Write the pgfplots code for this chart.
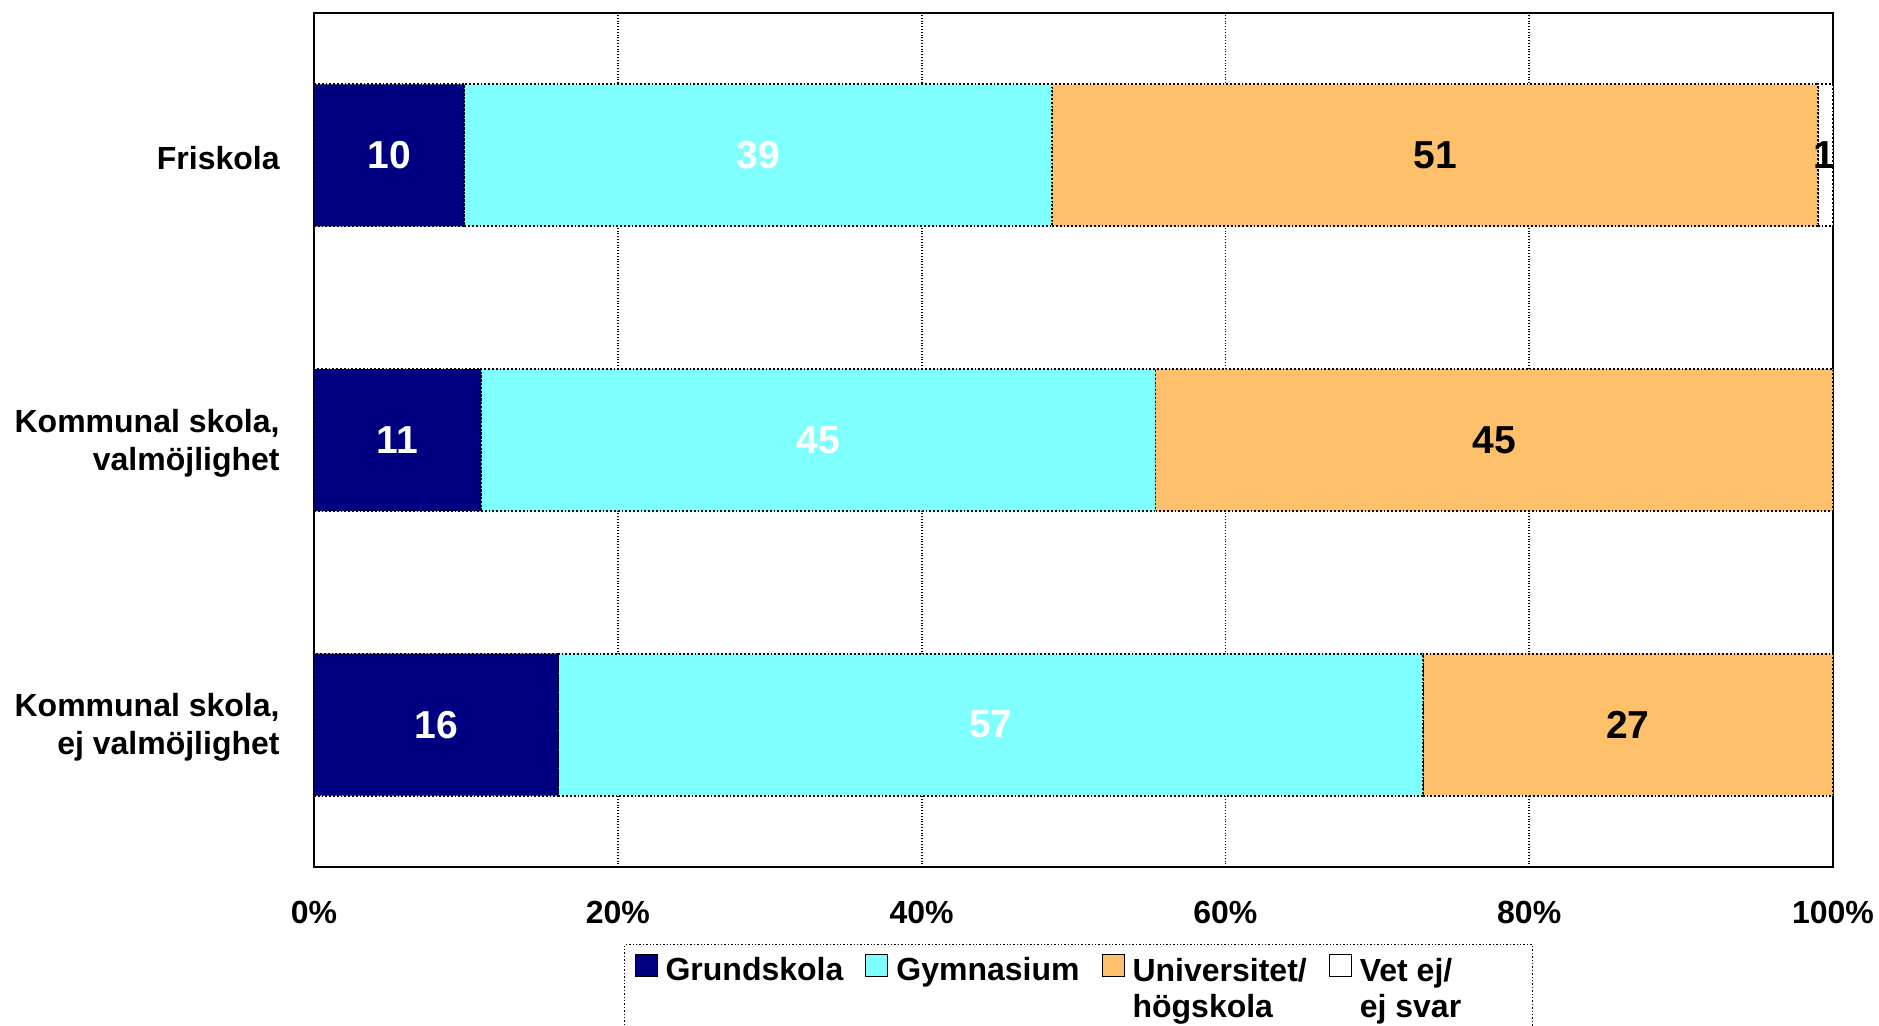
\documentclass[border=0pt]{standalone}
\usepackage{pgfplots}
\pgfplotsset{compat=1.18}
\usepackage{fontspec}
\setmainfont{Liberation Sans}
\definecolor{cNavy}{RGB}{0,0,128}
\definecolor{cCyan}{RGB}{128,255,255}
\definecolor{cOrange}{RGB}{255,192,108}
\begin{document}
\begin{tikzpicture}
\pgfplotsset{
  common/.style={
    at={(0,0)}, anchor=south west, scale only axis,
    width=759.5pt, height=427pt,
    xmin=0, xmax=100, ymin=-0.5, ymax=2.5,
  }
}
\begin{axis}[common,
  xbar stacked, bar width=71pt,
  ytick={0,1,2},
  yticklabels={{Kommunal skola,\\ej valmöjlighet},{Kommunal skola,\\valmöjlighet},{Friskola}},
  yticklabel style={align=right, inner sep=0pt, xshift=-17pt, yshift=-1.5pt, font=\bfseries\fontsize{16}{19}\selectfont},
  xtick={0,20,40,60,80,100},
  xticklabel={\pgfmathprintnumber{\tick}\%},
  xticklabel style={inner sep=0pt, yshift=-17pt, font=\bfseries\fontsize{16}{18.5}\selectfont},
  /pgf/number format/assume math mode=true,
  major tick length=0pt,
  xmajorgrids,
  major grid style={black, densely dotted, line width=0.9pt},
  axis line style={black, line width=0.9pt},
  legend columns=4,
  legend style={at={(0.204,-0.0902)}, anchor=north west, draw=black, densely dotted,
    line width=0.7pt, font=\bfseries\fontsize{16}{18}\selectfont,
    inner xsep=5pt, inner ysep=4pt,
    /tikz/every even column/.append style={column sep=9pt, nodes={text depth=26pt}},
    /tikz/every odd column/.append style={column sep=2pt}},
  legend cell align=left,
  legend image code/.code={\draw[#1, solid, draw=black, line width=0.5pt] (0pt,9.2pt) rectangle (11pt,20.2pt);},
]
\addplot[fill=cNavy, draw=black, densely dotted, line width=0.9pt] coordinates {(9.9,2) (11.0,1) (16.1,0)};
\addplot[fill=cCyan, draw=black, densely dotted, line width=0.9pt] coordinates {(38.7,2) (44.4,1) (56.9,0)};
\addplot[fill=cOrange, draw=black, densely dotted, line width=0.9pt] coordinates {(50.4,2) (44.6,1) (27.0,0)};
\addplot[fill=white, draw=black, densely dotted, line width=0.9pt] coordinates {(1.0,2) (0,1) (0,0)};
\legend{Grundskola,Gymnasium,{\begin{tabular}[t]{@{}l@{}}Universitet/\\högskola\end{tabular}},{\begin{tabular}[t]{@{}l@{}}Vet ej/\hspace*{33pt}\\ej svar\end{tabular}}}
\end{axis}
\begin{axis}[common, hide axis]
\addplot[only marks, mark=none, point meta=explicit symbolic, nodes near coords,
  every node near coord/.append style={anchor=center, text=white, font=\bfseries\fontsize{19.5}{22}\selectfont}]
  coordinates {(4.95,2)[10] (29.25,2)[39] (5.5,1)[11] (33.2,1)[45] (8.05,0)[16] (44.55,0)[57]};
\addplot[only marks, mark=none, point meta=explicit symbolic, nodes near coords,
  every node near coord/.append style={anchor=center, text=black, font=\bfseries\fontsize{19.5}{22}\selectfont}]
  coordinates {(73.8,2)[51] (99.4,2)[1] (77.7,1)[45] (86.5,0)[27]};
\end{axis}
\pgfresetboundingbox
\path (-157pt,-79pt) rectangle (782.5pt,433.5pt);
\end{tikzpicture}
\end{document}
